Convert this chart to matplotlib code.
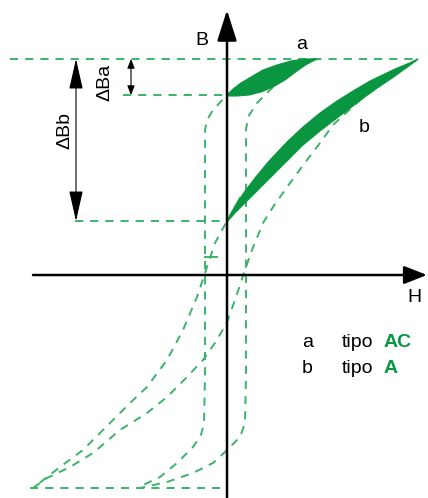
import matplotlib.pyplot as plt

plt.rcParams['font.family'] = ['Liberation Sans', 'DejaVu Sans']

# H / B coordinates of the hysteresis curves (schematic units)
B_SAT = 216
B_NEG = -213
BR_A = 180   # remanence, type AC
BR_B = 54    # remanence, type A

# major loop, type AC (a)
a_down_h = [91, 73, 53, 33, 13, 0, -14, -20, -22, -22, -22, -22, -23, -26, -34, -50, -67, -90]
a_down_b = [216, 215, 210, 200, 188, 180, 165, 155, 145, 100, 0, -100, -148, -160, -172, -188, -202, -213]
a_up_h = [-90, -87, -60, -34, -14, -2, 13, 18, 19, 19, 19, 21, 30, 46, 63, 91]
a_up_b = [-213, -213, -207, -198, -188, -177, -162, -148, -100, 0, 145, 158, 172, 188, 205, 216]

# major loop, type A (b)
b_down_h = [191, 143, 76, 43, 13, 0, -12, -22, -30, -44, -60, -80, -97, -117, -144, -167, -194]
b_down_b = [216, 190, 147, 114, 77, 54, 32, 2, -22, -55, -85, -112, -128, -148, -175, -192, -213]
b_up_h = [-194, -180, -157, -134, -107, -80, -60, -40, -24, -10, 0, 8, 18, 25, 36, 46, 63, 80, 93, 106, 133, 163, 191]
b_up_b = [-213, -203, -192, -178, -155, -138, -122, -102, -85, -65, -47, -25, 5, 25, 52, 68, 92, 115, 132, 150, 175, 197, 216]

# minor (recoil) loops drawn filled
lens_a_top_h = [0, 6, 14, 24, 36, 50, 64, 78, 90]
lens_a_top_b = [180, 186, 192, 198, 205, 210, 214, 216, 216]
lens_a_bot_h = [90, 80, 70, 58, 46, 34, 22, 10, 0]
lens_a_bot_b = [216, 211, 204, 195, 188, 183, 180, 179, 179]

lens_b_top_h = [0, 8, 16, 28, 43, 60, 76, 93, 110, 126, 143, 168, 190]
lens_b_top_b = [54, 69, 81, 97, 115, 133, 148, 162, 174, 184, 194, 206, 215]
lens_b_bot_h = [190, 168, 143, 126, 110, 93, 76, 60, 43, 28, 16, 8, 0]
lens_b_bot_b = [215, 199, 182, 169, 157, 144, 130, 114, 97, 82, 70, 62, 53]

legend_keys = ['a', 'b']
legend_types = ['AC', 'A']

GREEN = '#0a9640'
DASH_GREEN = '#3db26a'
dash = dict(color=DASH_GREEN, lw=1.4, ls=(0, (4.2, 3.6)), zorder=2)

fig = plt.figure(figsize=(4.28, 4.98), dpi=100)
ax = fig.add_axes([0, 0, 1, 1])
ax.set_xlim(-227, 201)
ax.set_ylim(-223, 275)
ax.axis('off')

# reference levels
ax.plot([-217, 191], [B_SAT, B_SAT], **dash)
ax.plot([-104, 0], [BR_A, BR_A], **dash)
ax.plot([-152, 0], [BR_B, BR_B], **dash)
ax.plot([-197, 0], [B_NEG, B_NEG], **dash)
ax.plot([-22, -10], [18, 18], color=DASH_GREEN, lw=1.4, zorder=2)

# major loops
ax.plot(a_down_h, a_down_b, **dash)
ax.plot(a_up_h, a_up_b, **dash)
ax.plot(b_down_h, b_down_b, **dash)
ax.plot(b_up_h, b_up_b, **dash)

# filled minor loops
ax.fill(lens_a_top_h + lens_a_bot_h, lens_a_top_b + lens_a_bot_b,
        color=GREEN, lw=0.8, zorder=3)
ax.fill(lens_b_top_h + lens_b_bot_h, lens_b_top_b + lens_b_bot_b,
        color=GREEN, lw=0.8, zorder=3)

# axes with arrows
axis_arrow = dict(arrowstyle='-|>,head_length=19,head_width=6', mutation_scale=1,
                  color='black', lw=1.8, shrinkA=0, shrinkB=0)
ax.annotate('', xy=(0, 265), xytext=(0, -223), arrowprops=axis_arrow, zorder=5)
h_arrow = dict(axis_arrow, arrowstyle='-|>,head_length=14,head_width=5.5')
ax.annotate('', xy=(200, 0), xytext=(-194, 0), arrowprops=h_arrow, zorder=5)

# delta B arrows
ax.annotate('', xy=(-151, BR_B), xytext=(-151, B_SAT),
            arrowprops=dict(arrowstyle='<|-|>,head_length=19,head_width=4.3',
                            mutation_scale=1, color='black', lw=0.8,
                            shrinkA=0, shrinkB=0))
ax.annotate('', xy=(-96, BR_A), xytext=(-96, B_SAT),
            arrowprops=dict(arrowstyle='<|-|>,head_length=5.5,head_width=2.2',
                            mutation_scale=1, color='black', lw=0.8,
                            shrinkA=0, shrinkB=0))

fs = 14
ax.text(-25.5, 230, 'B', fontsize=fs, ha='center', va='baseline')
ax.text(187.5, -27, 'H', fontsize=fs, ha='center', va='baseline')
ax.text(74.5, 226, 'a', fontsize=fs, ha='center', va='baseline')
ax.text(137, 143, 'b', fontsize=fs, ha='center', va='baseline')
ax.text(-122, 193, '\u0394Ba', fontsize=fs, rotation=90, ha='center', va='center')
ax.text(-162, 145, '\u0394Bb', fontsize=fs, rotation=90, ha='center', va='center')

for i, (k, t) in enumerate(zip(legend_keys, legend_types)):
    y = -72 - 26 * i
    ax.text(75, y, k, fontsize=fs, ha='left', va='baseline')
    ax.text(115, y, 'tipo', fontsize=fs, ha='left', va='baseline')
    ax.text(157, y, t, fontsize=fs, ha='left', va='baseline', color=GREEN,
            fontweight='bold')

fig.savefig('out.png', dpi=100)
